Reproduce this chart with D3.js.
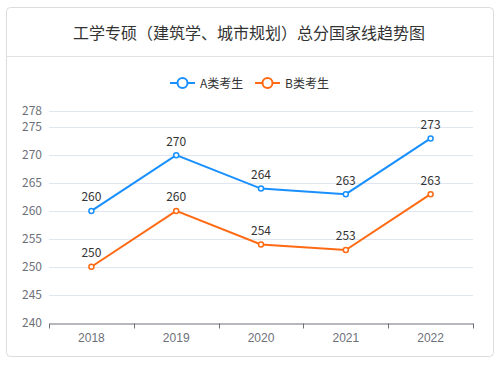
<!DOCTYPE html>
<html><head><meta charset="utf-8">
<script src="https://cdn.jsdelivr.net/npm/d3@7"></script>
<style>body{margin:0;background:#fff;}svg{display:block;font-family:"Noto Sans CJK SC","Noto Sans",sans-serif;}</style>
</head><body><svg id="c" width="502" height="369"></svg>
<script>
const title = "工学专硕（建筑学、城市规划）总分国家线趋势图";
const years = ["2018","2019","2020","2021","2022"];
const seriesNames = ["A类考生","B类考生"];
const seriesA = [260,270,264,263,273];
const seriesB = [250,260,254,253,263];
const yTicks = [240,245,250,255,260,265,270,275,278];
const colors = ["#1890ff","#ff6a13"];

const svg = d3.select("#c");
// card
svg.append("rect").attr("x",6.5).attr("y",7.5).attr("width",487).attr("height",349).attr("rx",4)
  .attr("fill","#fff").attr("stroke","#dcdcdc");
svg.append("line").attr("x1",7).attr("x2",493).attr("y1",56.5).attr("y2",56.5).attr("stroke","#e2e2e2");
svg.append("text").attr("x",249).attr("y",38.5).attr("text-anchor","middle").attr("font-size",16).attr("fill","#333").text(title);

const x = d3.scaleBand().domain(years).range([49,473]);
const y = d3.scaleLinear().domain([240,278]).range([322.5,110.5]);

// grid
svg.append("g").selectAll("line").data(yTicks.filter(t=>t>240)).join("line")
  .attr("x1",49).attr("x2",473).attr("y1",d=>Math.round(y(d))+0.5).attr("y2",d=>Math.round(y(d))+0.5)
  .attr("stroke","#e0e6f1");
// y labels
svg.append("g").selectAll("text").data(yTicks).join("text")
  .attr("x",42).attr("y",d=>y(d)+4).attr("text-anchor","end").attr("font-size",12).attr("fill","#6e7079").text(d=>d);
// x axis
const xa = svg.append("g").attr("transform","translate(0,"+(Math.round(y(240))+0.5)+")")
  .call(d3.axisBottom(x).tickSize(0).tickPadding(10));
xa.select(".domain").attr("stroke","#6e7079");
xa.selectAll("text").attr("font-size",12).attr("fill","#6e7079").attr("font-family","inherit");
const bounds = years.map(d=>x(d)).concat([473]);
xa.selectAll(".tk").data(bounds).join("line").attr("class","tk")
  .attr("x1",d=>Math.round(d)+0.5).attr("x2",d=>Math.round(d)+0.5).attr("y1",0).attr("y2",5).attr("stroke","#6e7079");

const cx = d => x(d)+x.bandwidth()/2;
[seriesA,seriesB].forEach((vals,i)=>{
  const line = d3.line().x((d,j)=>cx(years[j])).y(d=>y(d));
  svg.append("path").datum(vals).attr("d",line).attr("fill","none").attr("stroke",colors[i]).attr("stroke-width",2);
  svg.append("g").selectAll("circle").data(vals).join("circle")
    .attr("cx",(d,j)=>cx(years[j])).attr("cy",d=>y(d)).attr("r",2.5)
    .attr("fill","#fff").attr("stroke",colors[i]).attr("stroke-width",1.5);
  svg.append("g").selectAll("text").data(vals).join("text")
    .attr("x",(d,j)=>cx(years[j])).attr("y",d=>y(d)-9.5).attr("text-anchor","middle")
    .attr("font-size",12).attr("fill","#333").text(d=>d);
});

// legend
const leg = [{x:170},{x:255}];
seriesNames.forEach((n,i)=>{
  const g = svg.append("g").attr("transform","translate("+leg[i].x+",83)");
  g.append("line").attr("x1",0).attr("x2",25).attr("y1",0).attr("y2",0).attr("stroke",colors[i]).attr("stroke-width",2);
  g.append("circle").attr("cx",12.5).attr("cy",0).attr("r",5).attr("fill","#fff").attr("stroke",colors[i]).attr("stroke-width",2);
  g.append("text").attr("x",30).attr("y",4.5).attr("font-size",12).attr("fill","#333").text(n);
});
</script></body></html>
